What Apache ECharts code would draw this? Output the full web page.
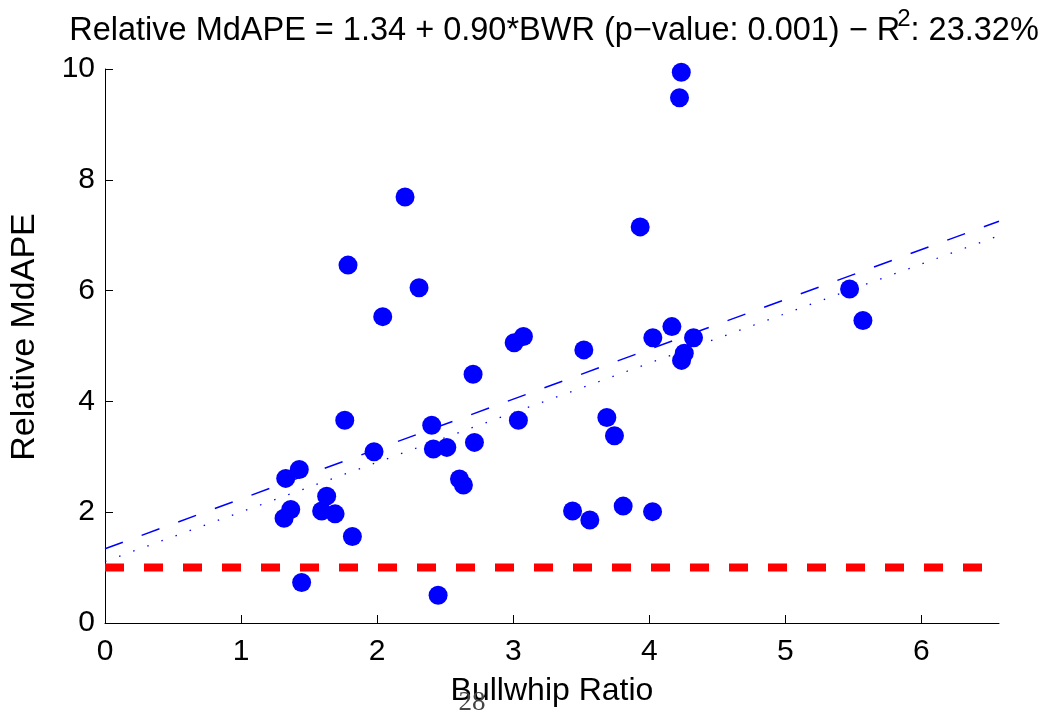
<!DOCTYPE html>
<html>
<head>
<meta charset="utf-8">
<script src="https://cdn.jsdelivr.net/npm/echarts@6/dist/echarts.min.js"></script>
<style>
  html, body { margin: 0; padding: 0; background: #fff; }
  #main { width: 1053px; height: 715px; }
</style>
</head>
<body>
<div id="main"></div>
<script>
// bullwhip ratio (x) and relative MdAPE (y)
var bwr = [2.205, 1.786, 2.308, 2.041, 3.007, 3.075, 3.519, 2.705, 3.933, 4.026,
           4.166, 4.325, 4.257, 4.237, 1.762, 2.401, 3.038, 1.977, 2.413, 2.512,
           2.715, 3.688, 3.744, 1.328, 1.428, 2.605, 2.634, 1.629, 1.365, 1.316,
           1.592, 1.691, 1.818, 3.436, 3.563, 3.808, 4.024, 1.445, 2.448, 4.235,
           4.222, 5.472, 5.570];
var mdape = [7.69, 6.46, 6.05, 5.53, 5.06, 5.17, 4.93, 4.49, 7.15, 5.15,
             5.35, 5.15, 4.87, 4.74, 3.66, 3.57, 3.66, 3.09, 3.14, 3.17,
             3.26, 3.71, 3.38, 2.61, 2.77, 2.60, 2.49, 2.29, 2.05, 1.89,
             2.02, 1.97, 1.56, 2.02, 1.86, 2.11, 2.01, 0.73, 0.50, 9.94,
             9.48, 6.03, 5.46];

// fitted lines: [intercept, slope]
var olsFit = [1.34, 0.90];
var altFit = [1.11, 0.895];
var refLevel = 1;

var xRange = [0, 6.57];
var xTicks = [0, 1, 2, 3, 4, 5, 6];
var yTicks = [0, 2, 4, 6, 8, 10];

var titleHead = 'Relative MdAPE = 1.34 + 0.90*BWR (p\u2212value: 0.001) \u2212 R';
var titleSup = '2';
var titleTail = ': 23.32%';

function fitLine(f) {
    return xRange.map(function (x) { return [x, f[0] + f[1] * x]; });
}

var points = bwr.map(function (x, i) { return [x, mdape[i]]; });

var font = 'Liberation Sans, Arial, Helvetica, sans-serif';
var titleFont = '32.5px ' + font;
var supFont = '24px ' + font;

// measure title pieces so the superscript sits right after the R
var ctx = document.createElement('canvas').getContext('2d');
function textWidth(s, f) { ctx.font = f; return ctx.measureText(s).width; }
var w1 = textWidth(titleHead, titleFont);
var ws = textWidth(titleSup, supFont);
var w2 = textWidth(titleTail, titleFont);
var titleLeft = 554 - (w1 + ws - 3 + w2) / 2;

function txt(x, y, s, f, align, extra) {
    var el = {
        type: 'text',
        x: x,
        y: y,
        style: {
            text: s,
            font: f,
            align: align,
            verticalAlign: 'middle',
            textAlign: align,
            textVerticalAlign: 'middle',
            fill: '#000'
        }
    };
    for (var k in extra) el[k] = extra[k];
    return el;
}

var myChart = echarts.init(document.getElementById('main'));

myChart.setOption({
    animation: false,
    backgroundColor: '#fff',
    grid: { left: 105, right: 54, top: 69, bottom: 92 },
    xAxis: {
        type: 'value',
        min: xRange[0],
        max: xRange[1],
        interval: 1,
        name: 'Bullwhip Ratio',
        nameLocation: 'middle',
        nameGap: 52,
        nameTextStyle: { fontFamily: font, fontSize: 32, color: '#000' },
        splitLine: { show: false },
        axisLine: { onZero: false, lineStyle: { color: '#000', width: 1 } },
        axisTick: { inside: true, length: 8, customValues: xTicks, lineStyle: { color: '#000' } },
        axisLabel: { customValues: xTicks, fontFamily: font, fontSize: 30, color: '#000', margin: 14 }
    },
    yAxis: {
        type: 'value',
        min: 0,
        max: 10,
        interval: 2,
        splitLine: { show: false },
        axisLine: { show: true, onZero: false, lineStyle: { color: '#000', width: 1 } },
        axisTick: { show: true, inside: true, length: 8, customValues: yTicks, lineStyle: { color: '#000' } },
        axisLabel: { customValues: yTicks, fontFamily: font, fontSize: 30, color: '#000', margin: 10 }
    },
    graphic: [
        txt(titleLeft, 31, titleHead, titleFont, 'left'),
        txt(titleLeft + w1 - 3, 19, titleSup, supFont, 'left'),
        txt(titleLeft + w1 - 3 + ws, 31, titleTail, titleFont, 'left'),
        txt(25, 337, 'Relative MdAPE', '34px ' + font, 'center', { rotation: Math.PI / 2 }),
        {
            type: 'text',
            x: 472,
            y: 703,
            z: 100,
            style: {
                text: '28',
                font: '27px Liberation Serif, Times New Roman, serif',
                align: 'center',
                verticalAlign: 'middle',
                textAlign: 'center',
                textVerticalAlign: 'middle',
                fill: '#444'
            }
        }
    ],
    series: [
        {
            name: 'reference',
            type: 'line',
            data: xRange.map(function (x) { return [x, refLevel]; }),
            symbol: 'none',
            silent: true,
            z: 1,
            lineStyle: { color: '#ff0000', width: 8, type: [19, 20], cap: 'butt' }
        },
        {
            name: 'fit',
            type: 'line',
            data: fitLine(olsFit),
            symbol: 'none',
            silent: true,
            z: 2,
            lineStyle: { color: '#0000ff', width: 1.5, type: [19, 20] }
        },
        {
            name: 'fit2',
            type: 'line',
            data: fitLine(altFit),
            symbol: 'none',
            silent: true,
            z: 2,
            lineStyle: { color: '#0000ff', width: 1.3, type: [1.5, 13.5] }
        },
        {
            name: 'firms',
            type: 'scatter',
            data: points,
            symbol: 'circle',
            symbolSize: 19,
            z: 3,
            itemStyle: { color: '#0000ff', opacity: 1 }
        }
    ]
});
</script>
</body>
</html>
